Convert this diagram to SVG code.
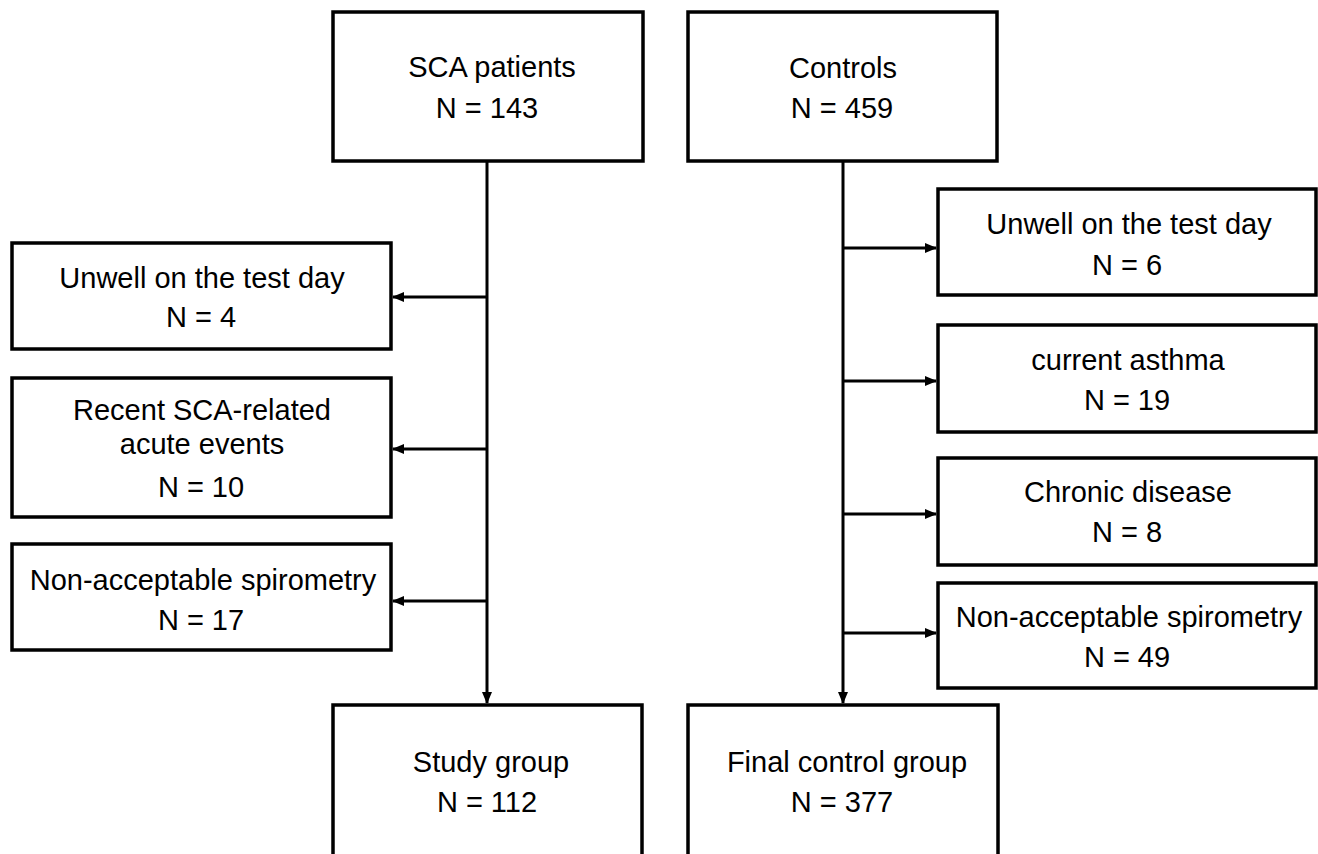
<svg xmlns="http://www.w3.org/2000/svg" width="1318" height="854" viewBox="0 0 1318 854">
<style>
.box{fill:#fff;stroke:#000;stroke-width:3.5}
.t{font-family:"Liberation Sans",Arial,sans-serif;font-size:29px;fill:#000;text-anchor:middle}
.c{stroke:#000;stroke-width:3;fill:none}
</style>
<defs>
<marker id="ah" markerWidth="12" markerHeight="10" refX="11" refY="5" orient="auto" markerUnits="userSpaceOnUse">
<path d="M0,0 L12,5 L0,10 Z" fill="#000"/>
</marker>
</defs>
<rect width="1318" height="854" fill="#fff"/>
<g id="connectors">
<line class="c" x1="487" y1="161" x2="487" y2="703" marker-end="url(#ah)"/>
<line class="c" x1="487" y1="297" x2="393" y2="297" marker-end="url(#ah)"/>
<line class="c" x1="487" y1="449" x2="393" y2="449" marker-end="url(#ah)"/>
<line class="c" x1="487" y1="601" x2="393" y2="601" marker-end="url(#ah)"/>
<line class="c" x1="843" y1="161" x2="843" y2="703" marker-end="url(#ah)"/>
<line class="c" x1="843" y1="248" x2="936" y2="248" marker-end="url(#ah)"/>
<line class="c" x1="843" y1="381" x2="936" y2="381" marker-end="url(#ah)"/>
<line class="c" x1="843" y1="514" x2="936" y2="514" marker-end="url(#ah)"/>
<line class="c" x1="843" y1="633" x2="936" y2="633" marker-end="url(#ah)"/>
</g>
<g id="sca">
<rect class="box" x="333" y="12" width="310" height="149"/>
<text class="t" x="492" y="77">SCA patients</text>
<text class="t" x="487" y="118">N = 143</text>
</g>
<g id="controls">
<rect class="box" x="688" y="12" width="309" height="149"/>
<text class="t" x="843" y="78">Controls</text>
<text class="t" x="842" y="118">N = 459</text>
</g>
<g id="sca-unwell">
<rect class="box" x="12" y="243" width="379" height="106"/>
<text class="t" x="202" y="288">Unwell on the test day</text>
<text class="t" x="201" y="327">N = 4</text>
</g>
<g id="sca-recent">
<rect class="box" x="12" y="378" width="379" height="139"/>
<text class="t" x="202" y="420">Recent SCA-related</text>
<text class="t" x="202" y="454">acute events</text>
<text class="t" x="201" y="497">N = 10</text>
</g>
<g id="sca-nonacc">
<rect class="box" x="12" y="544" width="379" height="106"/>
<text class="t" x="203" y="590">Non-acceptable spirometry</text>
<text class="t" x="201" y="630">N = 17</text>
</g>
<g id="ctl-unwell">
<rect class="box" x="938" y="189" width="378" height="106"/>
<text class="t" x="1129" y="234">Unwell on the test day</text>
<text class="t" x="1127" y="275">N = 6</text>
</g>
<g id="ctl-asthma">
<rect class="box" x="938" y="325" width="378" height="107"/>
<text class="t" x="1128" y="370">current asthma</text>
<text class="t" x="1127" y="410">N = 19</text>
</g>
<g id="ctl-chronic">
<rect class="box" x="938" y="458" width="378" height="107"/>
<text class="t" x="1128" y="502">Chronic disease</text>
<text class="t" x="1127" y="542">N = 8</text>
</g>
<g id="ctl-nonacc">
<rect class="box" x="938" y="583" width="378" height="105"/>
<text class="t" x="1129" y="627">Non-acceptable spirometry</text>
<text class="t" x="1127" y="667">N = 49</text>
</g>
<g id="study">
<rect class="box" x="333" y="705" width="309" height="170"/>
<text class="t" x="491" y="772">Study group</text>
<text class="t" x="487" y="812">N = 112</text>
</g>
<g id="final">
<rect class="box" x="688" y="705" width="310" height="170"/>
<text class="t" x="847" y="772">Final control group</text>
<text class="t" x="842" y="812">N = 377</text>
</g>
</svg>
